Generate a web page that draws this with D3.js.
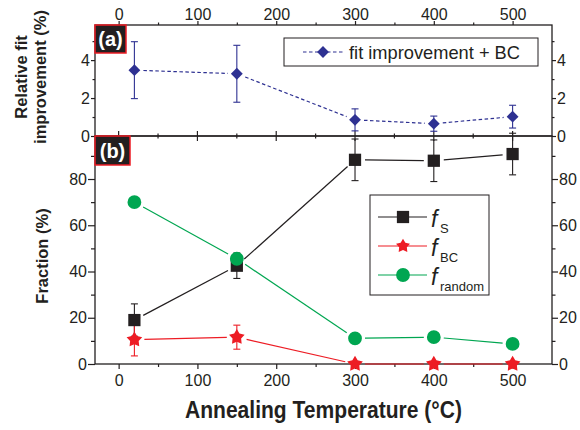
<!DOCTYPE html>
<html>
<head>
    <title>annealing</title>
    <style>
        body { margin: 0; background: #ffffff; }
        svg text { font-family: "Liberation Sans", Arial, sans-serif; fill: #231f20; }
        .tick text { font-size: 16px; }
        .tick line { stroke: #231f20; stroke-width: 1.2; }
    </style>
</head>
<body>
    <svg id="chart" width="580" height="430"></svg>
    <script src="https://d3js.org/d3.v7.min.js"></script>
    <script>
        // Annealing temperature (°C)
        const temps = [20, 150, 300, 400, 500];

        // Panel (a): relative fit improvement (%)
        const fitImprovement = [3.47, 3.28, 0.85, 0.65, 1.02];
        const fitErr = [1.5, 1.5, 0.58, 0.4, 0.6];

        // Panel (b): fractions (%)
        const fS = [19, 42.5, 88.3, 87.9, 90.8];
        const fSErr = [7, 5.5, 9, 9, 9];
        const fBC = [10.5, 11.6, 0, 0, 0];
        const fBCErr = [7, 5.2, 0, 0, 0];
        const fRandom = [70, 45.5, 11.1, 11.6, 8.7];

        const xTicks = [0, 100, 200, 300, 400, 500];
        const xMinor = [50, 150, 250, 350, 450];
        const yaTicks = [0, 2, 4];
        const yaMinor = [1, 3, 5];
        const ybTicks = [0, 20, 40, 60, 80];
        const ybMinor = [10, 30, 50, 70, 90];

        const BLACK = '#231f20', RED = '#ed1c24', GREEN = '#00a651', BLUE = '#2e3192';

        const L = 95, R = 552, TOP = 25, MID = 136, BOT = 364;
        const svg = d3.select('#chart');
        const fmt = d3.format('d');

        const x = d3.scaleLinear().domain([-30, 550]).range([L, R]);
        const ya = d3.scaleLinear().domain([0, 5.85]).range([MID, TOP]);
        const yb = d3.scaleLinear().domain([0, 98.6]).range([BOT, MID]);

        // fat five-point star, like the plotting program's marker
        const fatStar = {
            draw(ctx, size) {
                const r = Math.sqrt(size) * 0.62, ri = r * 0.55;
                for (let k = 0; k < 10; k++) {
                    const a = -Math.PI / 2 + k * Math.PI / 5, rr = k % 2 ? ri : r;
                    k ? ctx.lineTo(rr * Math.cos(a), rr * Math.sin(a)) : ctx.moveTo(rr * Math.cos(a), rr * Math.sin(a));
                }
                ctx.closePath();
            }
        };

        function noDomain(g) { g.select('.domain').remove(); }

        // axes
        svg.append('g').attr('transform', `translate(0,${TOP})`)
            .call(d3.axisTop(x).tickValues(xTicks).tickFormat(fmt).tickSize(4).tickPadding(1)).call(noDomain);
        svg.append('g').attr('transform', `translate(0,${TOP})`)
            .call(d3.axisTop(x).tickValues(xMinor).tickSize(2.5).tickFormat('')).call(noDomain);
        svg.append('g').attr('transform', `translate(0,${BOT})`)
            .call(d3.axisBottom(x).tickValues(xTicks).tickFormat(fmt).tickSize(5).tickPadding(6)).call(noDomain);
        svg.append('g').attr('transform', `translate(0,${BOT})`)
            .call(d3.axisBottom(x).tickValues(xMinor).tickSize(3).tickFormat('')).call(noDomain);

        // ticks crossing the shared line between the panels
        svg.append('g').selectAll('line').data(xTicks.map(v => [v, 5]).concat(xMinor.map(v => [v, 2.5])))
            .join('line')
            .attr('x1', d => x(d[0])).attr('x2', d => x(d[0]))
            .attr('y1', d => MID - d[1]).attr('y2', d => MID + d[1])
            .attr('stroke', BLACK).attr('stroke-width', 1.2);

        svg.append('g').attr('transform', `translate(${L},0)`)
            .call(d3.axisLeft(ya).tickValues(yaTicks).tickFormat(fmt).tickSize(4).tickPadding(1)).call(noDomain);
        svg.append('g').attr('transform', `translate(${L},0)`)
            .call(d3.axisLeft(ya).tickValues(yaMinor).tickSize(2.5).tickFormat('')).call(noDomain);
        svg.append('g').attr('transform', `translate(${R},0)`)
            .call(d3.axisRight(ya).tickValues(yaTicks).tickFormat(fmt).tickSize(4).tickPadding(1)).call(noDomain);
        svg.append('g').attr('transform', `translate(${R},0)`)
            .call(d3.axisRight(ya).tickValues(yaMinor).tickSize(2.5).tickFormat('')).call(noDomain);

        svg.append('g').attr('transform', `translate(${L},0)`)
            .call(d3.axisLeft(yb).tickValues(ybTicks).tickFormat(fmt).tickSize(7).tickPadding(1)).call(noDomain);
        svg.append('g').attr('transform', `translate(${L},0)`)
            .call(d3.axisLeft(yb).tickValues(ybMinor).tickSize(4).tickFormat('')).call(noDomain);
        svg.append('g').attr('transform', `translate(${R},0)`)
            .call(d3.axisRight(yb).tickValues(ybTicks).tickFormat(fmt).tickSize(6).tickPadding(1)).call(noDomain);
        svg.append('g').attr('transform', `translate(${R},0)`)
            .call(d3.axisRight(yb).tickValues(ybMinor).tickSize(3.5).tickFormat('')).call(noDomain);

        // frames
        svg.append('rect').attr('x', L).attr('y', TOP).attr('width', R - L).attr('height', MID - TOP)
            .attr('fill', 'none').attr('stroke', BLACK).attr('stroke-width', 1.3);
        svg.append('rect').attr('x', L).attr('y', MID).attr('width', R - L).attr('height', BOT - MID)
            .attr('fill', 'none').attr('stroke', BLACK).attr('stroke-width', 1.3);

        // helpers
        function errorBars(yScale, vals, errs, color) {
            const g = svg.append('g').attr('stroke', color).attr('stroke-width', 1.1);
            temps.forEach((t, i) => {
                if (!errs[i]) return;
                const cx = x(t), y1 = yScale(vals[i] - errs[i]), y2 = yScale(vals[i] + errs[i]);
                g.append('line').attr('x1', cx).attr('x2', cx).attr('y1', y1).attr('y2', y2);
                g.append('line').attr('x1', cx - 3.5).attr('x2', cx + 3.5).attr('y1', y1).attr('y2', y1);
                g.append('line').attr('x1', cx - 3.5).attr('x2', cx + 3.5).attr('y1', y2).attr('y2', y2);
            });
        }

        // line segments that stop short of the markers
        function gappedLine(yScale, vals, color, gap, dash) {
            const pts = temps.map((t, i) => [x(t), yScale(vals[i])]);
            const g = svg.append('g');
            for (let i = 0; i < pts.length - 1; i++) {
                const [x0, y0] = pts[i], [x1, y1] = pts[i + 1];
                const dx = x1 - x0, dy = y1 - y0, len = Math.hypot(dx, dy);
                const ux = dx / len, uy = dy / len;
                g.append('line')
                    .attr('x1', x0 + ux * gap).attr('y1', y0 + uy * gap)
                    .attr('x2', x1 - ux * gap).attr('y2', y1 - uy * gap)
                    .attr('stroke', color).attr('stroke-width', 1.2)
                    .attr('stroke-dasharray', dash || null);
            }
        }

        function markers(yScale, vals, symbol, size, color, rotate) {
            svg.append('g').selectAll('path').data(vals).join('path')
                .attr('d', d3.symbol().type(symbol).size(size))
                .attr('transform', (d, i) => `translate(${x(temps[i])},${yScale(d)})` + (rotate ? ` rotate(${rotate})` : ''))
                .attr('fill', color);
        }

        // panel (a)
        errorBars(ya, fitImprovement, fitErr, BLUE);
        gappedLine(ya, fitImprovement, BLUE, 9, '3.5,2.5');
        markers(ya, fitImprovement, d3.symbolSquare, 70, BLUE, 45);

        // panel (b)
        errorBars(yb, fS, fSErr, BLACK);
        errorBars(yb, fBC, fBCErr, RED);
        gappedLine(yb, fS, BLACK, 10);
        gappedLine(yb, fBC, RED, 10);
        gappedLine(yb, fRandom, GREEN, 10);
        markers(yb, fS, d3.symbolSquare, 150, BLACK);
        markers(yb, fBC, fatStar, 175, RED);
        markers(yb, fRandom, d3.symbolCircle, 150, GREEN);

        // panel labels
        [['(a)', TOP, 126, 53], ['(b)', MID, 130, 165]].forEach(([txt, y0, x1, y1]) => {
            svg.append('rect').attr('x', L).attr('y', y0).attr('width', x1 - L).attr('height', y1 - y0)
                .attr('fill', BLACK).attr('stroke', RED).attr('stroke-width', 1.5);
            svg.append('text').attr('x', (L + x1) / 2).attr('y', (y0 + y1) / 2 + 7)
                .attr('text-anchor', 'middle').style('font-size', '20px').style('font-weight', 'bold')
                .style('fill', '#ffffff').text(txt);
        });

        // legend (a)
        const la = svg.append('g');
        la.append('rect').attr('x', 284).attr('y', 38).attr('width', 254).attr('height', 28)
            .attr('fill', '#ffffff').attr('stroke', BLACK).attr('stroke-width', 1);
        la.append('line').attr('x1', 303).attr('x2', 343).attr('y1', 52).attr('y2', 52)
            .attr('stroke', BLUE).attr('stroke-width', 1.2).attr('stroke-dasharray', '3.5,2.5');
        la.append('path').attr('d', d3.symbol().type(d3.symbolSquare).size(70))
            .attr('transform', 'translate(323,52) rotate(45)').attr('fill', BLUE);
        la.append('text').attr('x', 349).attr('y', 58.5).style('font-size', '18.5px')
            .attr('textLength', 171).attr('lengthAdjust', 'spacingAndGlyphs')
            .text('fit improvement + BC');

        // legend (b)
        const legendItems = [
            { sub: 'S', color: BLACK, symbol: d3.symbolSquare, size: 150 },
            { sub: 'BC', color: RED, symbol: fatStar, size: 140 },
            { sub: 'random', color: GREEN, symbol: d3.symbolCircle, size: 150 }
        ];
        const lb = svg.append('g');
        lb.append('rect').attr('x', 370).attr('y', 195).attr('width', 119).attr('height', 100)
            .attr('fill', '#ffffff').attr('stroke', BLACK).attr('stroke-width', 1);
        legendItems.forEach((d, i) => {
            const cy = 217 + i * 29;
            lb.append('line').attr('x1', 378).attr('x2', 427).attr('y1', cy).attr('y2', cy)
                .attr('stroke', d.color).attr('stroke-width', 1.2);
            lb.append('path').attr('d', d3.symbol().type(d.symbol).size(d.size))
                .attr('transform', `translate(403,${cy})`).attr('fill', d.color);
            lb.append('text').attr('x', 431).attr('y', cy + 10).style('font-size', '23px')
                .style('font-style', 'italic').text('f');
            lb.append('text').attr('x', 440).attr('y', cy + 16).style('font-size', '13px').text(d.sub);
        });

        // axis titles
        svg.append('text').attr('x', 185).attr('y', 418)
            .attr('textLength', 277).attr('lengthAdjust', 'spacingAndGlyphs')
            .style('font-size', '23px').style('font-weight', 'bold').text('Annealing Temperature (°C)');
        svg.append('text').attr('transform', 'translate(48,256) rotate(-90)').attr('text-anchor', 'middle')
            .style('font-size', '16.5px').style('font-weight', 'bold').text('Fraction (%)');
        const ta = svg.append('text').attr('transform', 'translate(0,77) rotate(-90)').attr('text-anchor', 'middle')
            .style('font-size', '16.5px').style('font-weight', 'bold');
        ta.append('tspan').attr('x', 0).attr('y', 27).text('Relative fit');
        ta.append('tspan').attr('x', 0).attr('y', 46).text('improvement (%)');
    </script>
</body>
</html>
